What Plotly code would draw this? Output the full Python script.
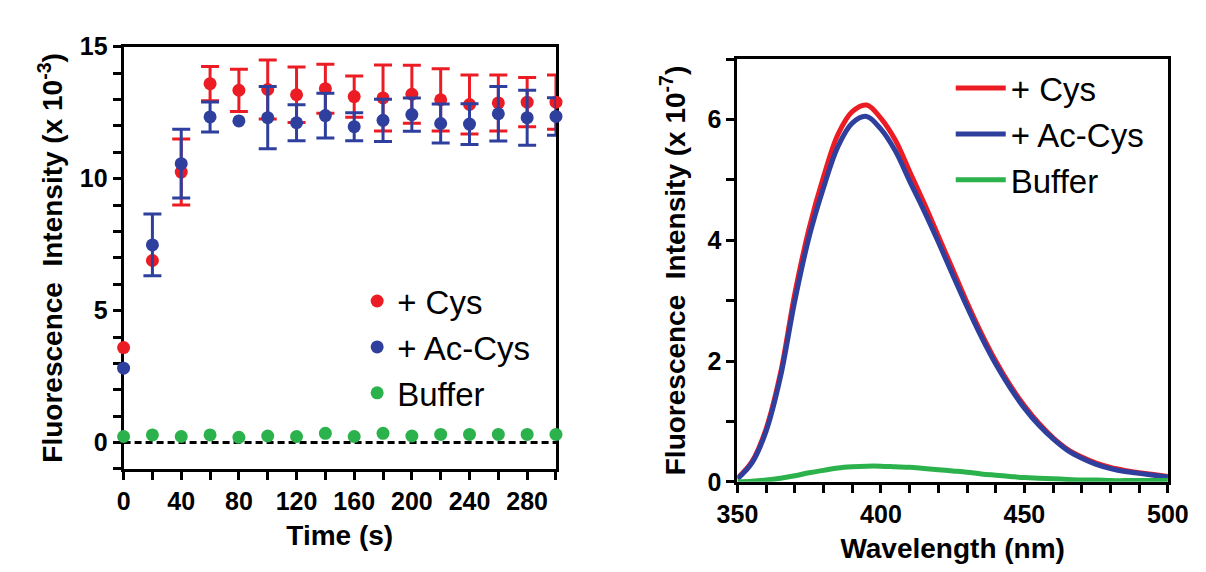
import plotly.graph_objects as go

# ---------------- Left panel data (time course) ----------------
time_s = [0, 20, 40, 60, 80, 100, 120, 140, 160, 180, 200, 220, 240, 260, 280, 300]
cys_mean = [3.6, 6.9, 10.25, 13.6, 13.35, 13.38, 13.18, 13.41, 13.11, 13.06, 13.2, 12.99, 12.81, 12.87, 12.9, 12.9]
cys_err = [None, None, 1.25, 0.65, 0.8, 1.12, 1.05, 0.93, 0.78, 1.25, 1.1, 1.18, 1.12, 1.06, 0.93, 1.03]
accys_mean = [2.82, 7.49, 10.57, 12.34, 12.19, 12.31, 12.12, 12.39, 11.97, 12.21, 12.43, 12.09, 12.07, 12.46, 12.31, 12.36]
accys_err = [None, 1.17, 1.3, 0.57, None, 1.18, 0.68, 0.85, 0.53, 0.8, 0.63, 0.74, 0.77, 1.03, 1.04, 0.71]
buffer_mean = [0.23, 0.29, 0.23, 0.29, 0.2, 0.25, 0.23, 0.35, 0.23, 0.35, 0.25, 0.31, 0.31, 0.31, 0.31, 0.31]
baseline_x = [0, 300]
baseline_y = [0, 0]

# ---------------- Right panel data (emission spectra) ----------------
wavelength = [350, 355, 360, 365, 370, 375, 380, 385, 390, 395, 400, 405, 410, 415, 420,
              425, 430, 435, 440, 445, 450, 455, 460, 465, 470, 475, 480, 485, 490, 495, 500]
spec_cys = [0.06, 0.33, 0.88, 1.8, 3.12, 4.2, 5.05, 5.75, 6.13, 6.24, 6.02, 5.66, 5.14, 4.62, 4.07,
            3.52, 2.97, 2.46, 2.0, 1.6, 1.26, 0.97, 0.73, 0.54, 0.41, 0.31, 0.24, 0.19, 0.15, 0.12, 0.09]
spec_accys = [0.05, 0.31, 0.84, 1.74, 3.0, 4.06, 4.87, 5.55, 5.94, 6.05, 5.84, 5.48, 4.98, 4.49, 3.97,
              3.43, 2.9, 2.4, 1.95, 1.56, 1.22, 0.94, 0.71, 0.52, 0.39, 0.29, 0.22, 0.17, 0.14, 0.11, 0.08]
spec_buffer = [0.0, 0.01, 0.03, 0.06, 0.1, 0.15, 0.19, 0.23, 0.25, 0.26, 0.26, 0.25, 0.24, 0.22, 0.2,
               0.18, 0.16, 0.13, 0.11, 0.09, 0.07, 0.06, 0.05, 0.04, 0.03, 0.03, 0.02, 0.02, 0.02, 0.02, 0.02]

RED = "#EC1C24"
BLUE = "#2F3F9E"
GREEN = "#2BB24C"
FONT = "Arial, Liberation Sans, Helvetica, sans-serif"

W, H = 1206, 572


def with_errors(xs, ys, errs):
    """Keep only the points that carry a visible error bar."""
    keep = [i for i, e in enumerate(errs) if e is not None]
    return [xs[i] for i in keep], [ys[i] for i in keep], [errs[i] for i in keep]


fig = go.Figure()

# left panel
fig.add_trace(go.Scatter(x=baseline_x, y=baseline_y, mode="lines",
                         line=dict(color="black", width=3, dash="7px,4px"),
                         showlegend=False, hoverinfo="skip", xaxis="x", yaxis="y"))

for name, ys, errs, col in [("+ Cys", cys_mean, cys_err, RED),
                            ("+ Ac-Cys", accys_mean, accys_err, BLUE)]:
    ex, ey, ee = with_errors(time_s, ys, errs)
    fig.add_trace(go.Scatter(x=ex, y=ey, mode="markers",
                             marker=dict(color="rgba(0,0,0,0)", size=1),
                             error_y=dict(type="data", array=ee, color=col, thickness=3, width=9),
                             cliponaxis=False, showlegend=False, hoverinfo="skip",
                             xaxis="x", yaxis="y"))
    fig.add_trace(go.Scatter(x=time_s, y=ys, mode="markers", name=name,
                             marker=dict(color=col, size=13),
                             cliponaxis=False, xaxis="x", yaxis="y", legend="legend"))

fig.add_trace(go.Scatter(x=time_s, y=buffer_mean, mode="markers", name="Buffer",
                         marker=dict(color=GREEN, size=13),
                         cliponaxis=False, xaxis="x", yaxis="y", legend="legend"))

# right panel
fig.add_trace(go.Scatter(x=wavelength, y=spec_cys, mode="lines", name="+ Cys",
                         line=dict(color=RED, width=5, shape="spline", smoothing=1.0),
                         xaxis="x2", yaxis="y2", legend="legend2"))
fig.add_trace(go.Scatter(x=wavelength, y=spec_accys, mode="lines", name="+ Ac-Cys",
                         line=dict(color=BLUE, width=5, shape="spline", smoothing=1.0),
                         xaxis="x2", yaxis="y2", legend="legend2"))
fig.add_trace(go.Scatter(x=wavelength, y=spec_buffer, mode="lines", name="Buffer",
                         line=dict(color=GREEN, width=5, shape="spline", smoothing=1.0),
                         xaxis="x2", yaxis="y2", legend="legend2"))

tickfont = dict(family=FONT, size=25, color="black", weight="bold")
titlefont = dict(family=FONT, size=28, color="black", weight="bold")

axis_common = dict(showline=True, linecolor="black", linewidth=3, mirror=True,
                   ticks="outside", ticklen=8, tickwidth=3, tickcolor="black",
                   showgrid=False, zeroline=False, tickfont=tickfont, layer="below traces")

fig.update_layout(
    width=W, height=H,
    margin=dict(l=0, r=0, t=0, b=0),
    paper_bgcolor="white", plot_bgcolor="white",
    font=dict(family=FONT, color="black"),
    xaxis=dict(domain=[98 / W, 546 / W], range=[0, 300], dtick=40, tick0=0,
               minor=dict(dtick=20, ticks="outside", ticklen=8, tickwidth=3, tickcolor="black"),
               title=dict(text="Time (s)", font=titlefont, standoff=12),
               anchor="y", **axis_common),
    yaxis=dict(domain=[1 - 470 / H, 1 - 26 / H], range=[-1, 15], dtick=5, tick0=0,
               minor=dict(dtick=1, ticks="outside", ticklen=8, tickwidth=3, tickcolor="black"),
               title=dict(text="Fluorescence\u00a0 Intensity (x 10<sup>-3</sup>)", font=titlefont, standoff=9),
               anchor="x", **axis_common),
    xaxis2=dict(domain=[734 / W, 1180 / W], range=[350, 500], dtick=50, tick0=350,
                minor=dict(dtick=10, ticks="outside", ticklen=8, tickwidth=3, tickcolor="black"),
                title=dict(text="Wavelength (nm)", font=titlefont, standoff=12),
                anchor="y2", **axis_common),
    yaxis2=dict(domain=[1 - 483.5 / H, 1 - 39 / H], range=[0, 7], dtick=2, tick0=0,
                minor=dict(dtick=1, ticks="outside", ticklen=8, tickwidth=3, tickcolor="black"),
                title=dict(text="Fluorescence\u00a0 Intensity (x 10<sup>-7</sup>)", font=titlefont, standoff=14),
                anchor="x2", **axis_common),
    legend=dict(x=340 / W, y=1 - 264 / H, xanchor="left", yanchor="top",
                font=dict(family=FONT, size=33, color="black"),
                bgcolor="rgba(0,0,0,0)", tracegroupgap=0, itemwidth=30),
    legend2=dict(x=955 / W, y=1 - 40 / H, xanchor="left", yanchor="top",
                 font=dict(family=FONT, size=33, color="black"),
                 bgcolor="rgba(0,0,0,0)", tracegroupgap=0, itemwidth=50),
    showlegend=True,
)

fig.write_html("out.html")
